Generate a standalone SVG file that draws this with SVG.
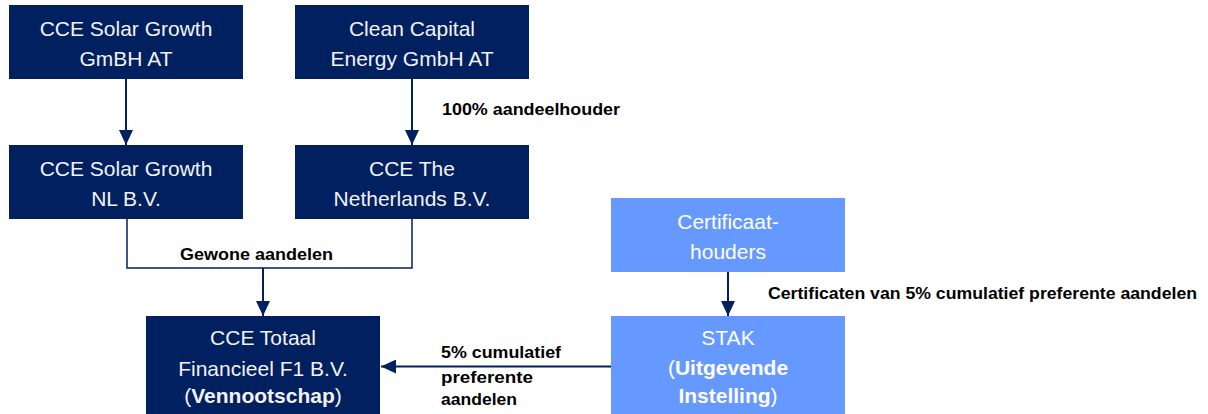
<svg xmlns="http://www.w3.org/2000/svg" width="1208" height="414" viewBox="0 0 1208 414">
<style>
.dark{fill:#002060}
.light{fill:#6699FF}
.nt{font-family:"Liberation Sans",Arial,sans-serif;font-size:21px;text-anchor:middle}
.nd{fill:#F2F2F2}
.nl{fill:#FFFFFF}
.b{font-weight:bold}
.lbl{font-family:"Liberation Sans",Arial,sans-serif;font-size:17px;font-weight:bold;fill:#000000}
.con{stroke:#002060;stroke-width:2;fill:none}
.thin{stroke:#002060;stroke-width:1.5;fill:none}
</style>
<defs>
<marker id="ah" markerUnits="userSpaceOnUse" markerWidth="15" markerHeight="14" refX="15" refY="7" orient="auto">
<path d="M0,0 L15,7 L0,14 Z" fill="#002060"/>
</marker>
</defs>
<rect width="1208" height="414" fill="#FFFFFF"/>
<g id="connectors">
<line class="con" x1="126" y1="79" x2="126" y2="145" marker-end="url(#ah)"/>
<line class="con" x1="412" y1="79" x2="412" y2="145" marker-end="url(#ah)"/>
<polyline class="thin" points="127,219 127,268 412,268 412,219"/>
<line class="con" x1="263" y1="268" x2="263" y2="316" marker-end="url(#ah)"/>
<line class="con" x1="728" y1="272" x2="728" y2="316" marker-end="url(#ah)"/>
<line class="con" x1="611" y1="366.5" x2="381" y2="366.5" marker-end="url(#ah)"/>
<text class="lbl" x="442" y="115" textLength="178" lengthAdjust="spacingAndGlyphs">100% aandeelhouder</text>
<text class="lbl" x="180" y="260" textLength="153" lengthAdjust="spacingAndGlyphs">Gewone aandelen</text>
<text class="lbl" x="768" y="299" textLength="429" lengthAdjust="spacingAndGlyphs">Certificaten van 5% cumulatief preferente aandelen</text>
<text class="lbl" x="441" y="358" textLength="120" lengthAdjust="spacingAndGlyphs">5% cumulatief</text>
<text class="lbl" x="441" y="383" textLength="92" lengthAdjust="spacingAndGlyphs">preferente</text>
<text class="lbl" x="441" y="405" textLength="76" lengthAdjust="spacingAndGlyphs">aandelen</text>
</g>
<g id="cce-solar-growth-at">
<rect class="dark" x="9" y="5" width="234" height="74"/>
<text class="nt nd" x="126" y="36">CCE Solar Growth</text>
<text class="nt nd" x="126" y="66">GmBH AT</text>
</g>
<g id="clean-capital-energy">
<rect class="dark" x="295" y="5" width="234" height="74"/>
<text class="nt nd" x="412" y="36">Clean Capital</text>
<text class="nt nd" x="412" y="66">Energy GmbH AT</text>
</g>
<g id="cce-solar-growth-nl">
<rect class="dark" x="9" y="145" width="234" height="74"/>
<text class="nt nd" x="126" y="176">CCE Solar Growth</text>
<text class="nt nd" x="126" y="206">NL B.V.</text>
</g>
<g id="cce-netherlands">
<rect class="dark" x="295" y="145" width="234" height="74"/>
<text class="nt nd" x="412" y="176">CCE The</text>
<text class="nt nd" x="412" y="206">Netherlands B.V.</text>
</g>
<g id="certificaathouders">
<rect class="light" x="611" y="198" width="234" height="74"/>
<text class="nt nl" x="728" y="229">Certificaat-</text>
<text class="nt nl" x="728" y="259">houders</text>
</g>
<g id="vennootschap">
<rect class="dark" x="146" y="316" width="234" height="104"/>
<text class="nt nd" x="263" y="345">CCE Totaal</text>
<text class="nt nd" x="263" y="376">Financieel F1 B.V.</text>
<text class="nt nd" x="263" y="403">(<tspan class="b">Vennootschap</tspan>)</text>
</g>
<g id="stak">
<rect class="light" x="611" y="316" width="234" height="104"/>
<text class="nt nl" x="728" y="345">STAK</text>
<text class="nt nl" x="728" y="375">(<tspan class="b">Uitgevende</tspan></text>
<text class="nt nl" x="728" y="403"><tspan class="b">Instelling</tspan>)</text>
</g>
</svg>
